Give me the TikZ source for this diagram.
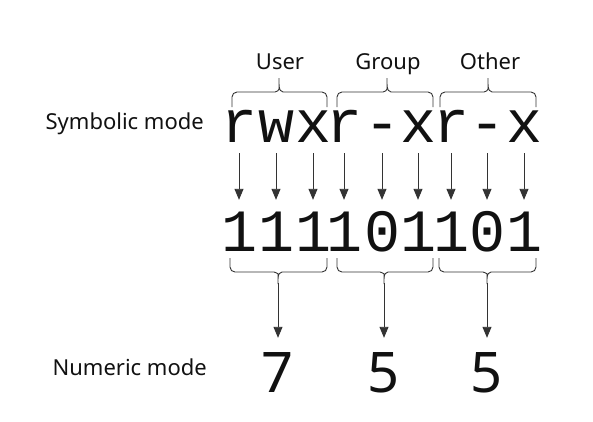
\documentclass[tikz,border=0pt]{standalone}
\usepackage{fontspec}
\setmainfont{Noto Sans}
\newfontfamily\codefont{Liberation Mono}
\usetikzlibrary{arrows.meta}
\definecolor{ink}{HTML}{111111}
\definecolor{wire}{HTML}{333333}
\tikzset{
  lbl/.style ={font=\fontsize{22}{25}\selectfont, text=ink, inner sep=0pt},
  bit/.style ={font=\codefont\fontsize{60}{64}\selectfont, text=ink, inner sep=0pt,
               text height=51pt, text depth=11pt, anchor=base},
  num/.style ={font=\fontsize{56}{60}\selectfont, text=ink, inner sep=0pt,
               text height=54pt, anchor=base},
  flow/.style={-{Triangle[length=11pt,width=9pt]}, line width=0.9pt, draw=wire},
  brc/.style ={line width=0.9pt, draw=wire, rounded corners=5pt}
}
% brace over a group: left, tip, right
\newcommand\upbrace[3]{%
  \draw[brc] (#1,107) -- (#1,92) -- ({#2-9},92)
     .. controls ({#2-2},92) and (#2,90) .. (#2,84) -- (#2,78)
     (#2,84) .. controls (#2,90) and ({#2+2},92) .. ({#2+9},92)
     -- (#3,92) -- (#3,107);}
% brace under a group: left, tip, right
\newcommand\downbrace[3]{%
  \draw[brc] (#1,258) -- (#1,272) -- ({#2-9},272)
     .. controls ({#2-2},272) and (#2,274) .. (#2,279) -- (#2,283)
     (#2,279) .. controls (#2,274) and ({#2+2},272) .. ({#2+9},272)
     -- (#3,272) -- (#3,258);}

\begin{document}
\begin{tikzpicture}[x=1pt, y=-1pt]
  \useasboundingbox (0,0) rectangle (593,421);

  \node[lbl, anchor=base]      (user)  at (280,69) {User};
  \node[lbl, anchor=base]      (group) at (388,69) {Group};
  \node[lbl, anchor=base]      (other) at (490,69) {Other};
  \node[lbl, anchor=base east] (sym)   at (204,129) {Symbolic mode};
  \node[lbl, anchor=base east] (numl)  at (207,375) {Numeric mode};

  \upbrace{232}{279}{327}
  \upbrace{337}{387}{433}
  \upbrace{440}{488}{536}

  \node[bit] (s1) at (239,142) {r};
  \node[bit] (s2) at (276,142) {w};
  \node[bit] (s3) at (313,142) {x};
  \node[bit] (s4) at (344,142) {r};
  \node[bit] (s5) at (382,142) {-};
  \node[bit] (s6) at (418,142) {x};
  \node[bit] (s7) at (451,142) {r};
  \node[bit] (s8) at (487,142) {-};
  \node[bit] (s9) at (524,142) {x};

  \node[bit] (b1) at (239,251) {1};
  \node[bit] (b2) at (276,251) {1};
  \node[bit] (b3) at (313,251) {1};
  \node[bit] (b4) at (344,251) {1};
  \node[bit] (b5) at (382,251) {0};
  \node[bit] (b6) at (418,251) {1};
  \node[bit] (b7) at (451,251) {1};
  \node[bit] (b8) at (487,251) {0};
  \node[bit] (b9) at (524,251) {1};

  \draw[flow] (s1) -- (b1);
  \draw[flow] (s2) -- (b2);
  \draw[flow] (s3) -- (b3);
  \draw[flow] (s4) -- (b4);
  \draw[flow] (s5) -- (b5);
  \draw[flow] (s6) -- (b6);
  \draw[flow] (s7) -- (b7);
  \draw[flow] (s8) -- (b8);
  \draw[flow] (s9) -- (b9);

  \downbrace{230}{278}{327}
  \downbrace{337}{384}{433}
  \downbrace{439}{487}{536}
  \coordinate (u1) at (278,283);
  \coordinate (u2) at (384,283);
  \coordinate (u3) at (487,283);

  \node[num] (n1) at (278,392) {7};
  \node[num] (n2) at (384,392) {5};
  \node[num] (n3) at (487,392) {5};

  \draw[flow] (u1) -- (n1);
  \draw[flow] (u2) -- (n2);
  \draw[flow] (u3) -- (n3);
\end{tikzpicture}
\end{document}
